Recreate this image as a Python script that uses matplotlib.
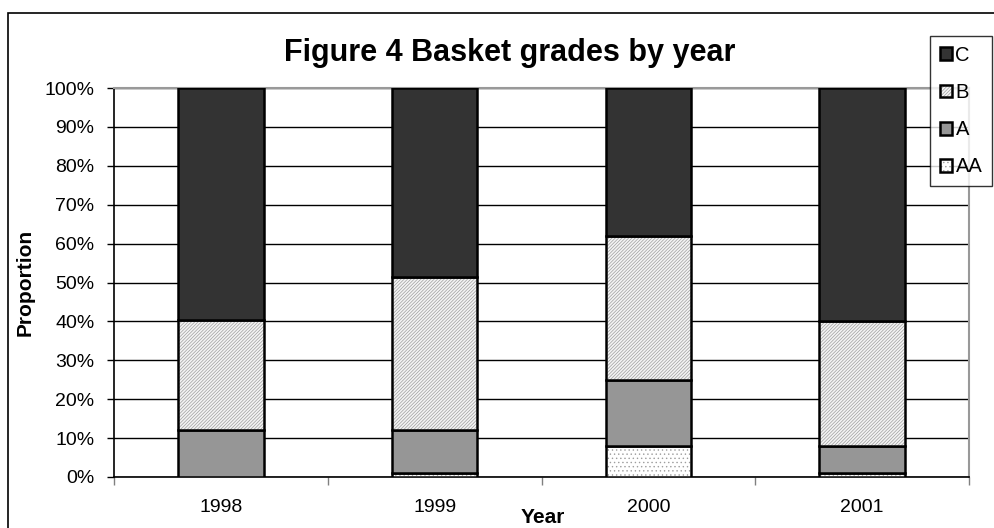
import numpy as np
import matplotlib.pyplot as plt
from matplotlib.patches import Rectangle

plt.rcParams['font.family'] = ['Liberation Sans', 'DejaVu Sans']
plt.rcParams['hatch.linewidth'] = 0.5

# share of baskets per grade, per year (%)
years = ['1998', '1999', '2000', '2001']
grade_aa = [0.0, 1.0, 8.0, 1.0]
grade_a = [12.2, 11.2, 17.0, 7.0]
grade_b = [28.2, 39.2, 37.0, 32.0]
grade_c = [59.6, 48.6, 38.0, 60.0]

fig = plt.figure(figsize=(9.95, 5.28), dpi=100)
ax = fig.add_axes([0.1146, 0.0966, 0.8593, 0.7367])

x = np.arange(len(years))
w = 0.4
bottom = np.zeros(len(years))
series = [
    ('AA', grade_aa, dict(facecolor='white', hatch='....', edgecolor='black')),
    ('A', grade_a, dict(facecolor='#969696', edgecolor='black')),
    ('B', grade_b, dict(facecolor='#f4f4f4', hatch='//////////', edgecolor='black')),
    ('C', grade_c, dict(facecolor='#333333', edgecolor='black')),
]
handles = {}
for name, vals, style in series:
    bars = ax.bar(x, vals, w, bottom=bottom, linewidth=1.8, zorder=3, **style)
    if 'hatch' in style:
        for b in bars:
            b._hatch_color = (0.62, 0.62, 0.62, 1.0)
    handles[name] = bars
    bottom += np.array(vals)

ax.set_xlim(-0.5, len(years) - 0.5)
ax.set_ylim(0, 100)
ax.set_yticks(np.arange(0, 101, 10))
ax.set_yticklabels([f'{v}%' for v in range(0, 101, 10)], fontsize=14)
ax.yaxis.grid(True, color='black', linewidth=1.0, zorder=0)
ax.tick_params(axis='y', direction='out', length=5, width=1, pad=9)

ax.set_xticks(x)
ax.set_xticklabels(years, fontsize=14)
ax.set_xticks(np.arange(-0.5, len(years)), minor=True)
ax.tick_params(axis='x', which='major', length=0, pad=16)
ax.tick_params(axis='x', which='minor', direction='out', length=6, width=1,
               color='#808080')

for s in ['left', 'bottom']:
    ax.spines[s].set_color('black')
    ax.spines[s].set_linewidth(1.2)
for s in ['top', 'right']:
    ax.spines[s].set_color('#999999')
    ax.spines[s].set_linewidth(1.5)

fig.text(0.512, 0.9, 'Figure 4 Basket grades by year', ha='center',
         va='center', fontsize=22, fontweight='bold')
fig.text(0.025, 0.466, 'Proportion', rotation=90, ha='center', va='center',
         fontsize=15, fontweight='bold')
fig.text(0.546, 0.019, 'Year', ha='center', va='center', fontsize=15,
         fontweight='bold')

# outer frame of the chart
fig.add_artist(Rectangle((0.008, -0.05), 1.1, 1.025, transform=fig.transFigure,
                         fill=False, edgecolor='black', linewidth=1.2))

order = ['C', 'B', 'A', 'AA']
leg = fig.legend([handles[k][0] for k in order], order, loc='upper left',
                 bbox_to_anchor=(0.935, 0.932), fontsize=14.5, frameon=True,
                 fancybox=False, edgecolor='black', handlelength=0.6,
                 handleheight=0.6, handletextpad=0.15, labelspacing=0.9,
                 borderpad=0.5, borderaxespad=0)
leg.get_frame().set_linewidth(1.0)

fig.savefig('out.png', dpi=100)
